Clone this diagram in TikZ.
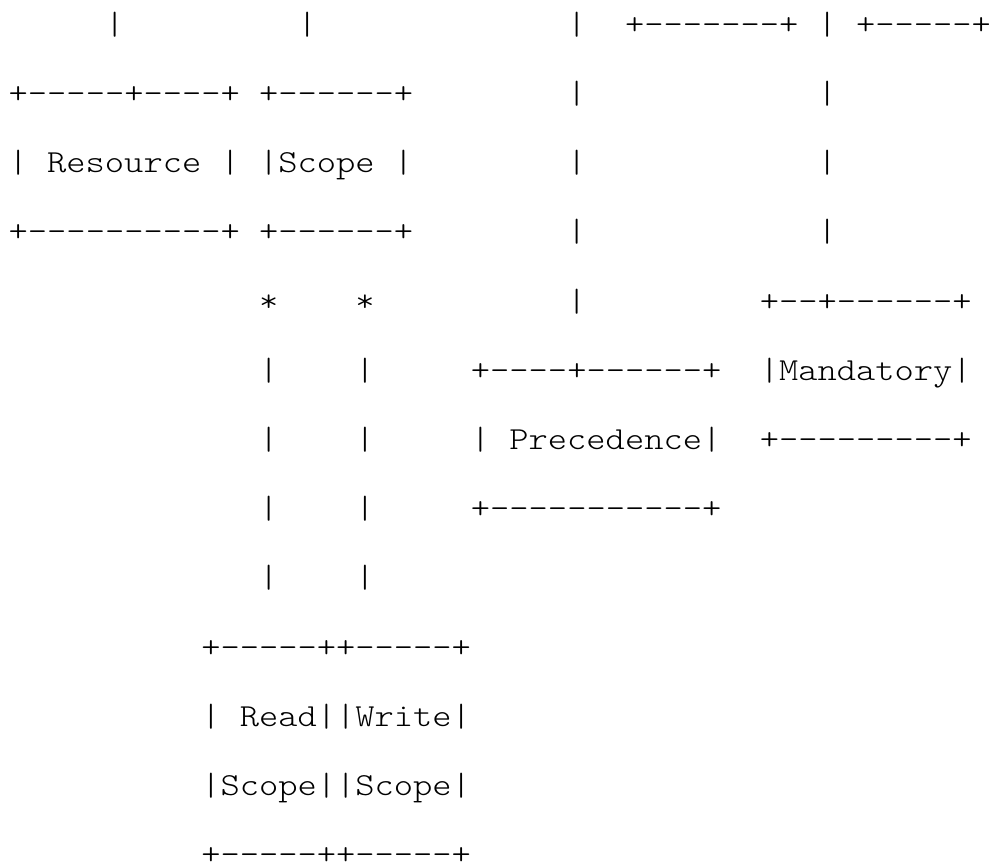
\documentclass[tikz,border=0pt]{standalone}
\usepackage{fontspec}
\newfontfamily\asciifont[FakeStretch=1.143]{Latin Modern Mono Light}
\tikzset{
  asc/.style={inner sep=0pt, outer sep=0pt, anchor=base west,
    font=\asciifont\fontsize{32.1pt}{38pt}\selectfont, text=black},
}
% column/row -> position
\newcommand\ascpos[2]{({8.7pt+#1*19.26pt},{868pt-34.3pt-(#2-1)*69.2pt})}
\newcommand\ascput[4]{\node[asc] (#1) at \ascpos{#2}{#3} {#4};}
\begin{document}
\begin{tikzpicture}
\useasboundingbox (0,0) rectangle (989pt,868pt);
% row 1
\ascput{a1}{5}{1}{|}
\ascput{a2}{15}{1}{|}
\ascput{a3}{29}{1}{|}
\ascput{a4}{32}{1}{+-------+}
\ascput{a5}{42}{1}{|}
\ascput{a6}{44}{1}{+-----+}
% row 2
\ascput{b1}{0}{2}{+-----+----+}
\ascput{b2}{13}{2}{+------+}
\ascput{b3}{29}{2}{|}
\ascput{b4}{42}{2}{|}
% row 3
\ascput{c1}{0}{3}{| Resource |}
\ascput{c2}{13}{3}{|Scope |}
\ascput{c3}{29}{3}{|}
\ascput{c4}{42}{3}{|}
% row 4
\ascput{d1}{0}{4}{+----------+}
\ascput{d2}{13}{4}{+------+}
\ascput{d3}{29}{4}{|}
\ascput{d4}{42}{4}{|}
% row 5
\ascput{e1}{13}{5}{*}
\ascput{e2}{18}{5}{*}
\ascput{e3}{29}{5}{|}
\ascput{e4}{39}{5}{+--+------+}
% row 6
\ascput{f1}{13}{6}{|}
\ascput{f2}{18}{6}{|}
\ascput{f3}{24}{6}{+----+------+}
\ascput{f4}{39}{6}{|Mandatory|}
% row 7
\ascput{g1}{13}{7}{|}
\ascput{g2}{18}{7}{|}
\ascput{g3}{24}{7}{| Precedence|}
\ascput{g4}{39}{7}{+---------+}
% row 8
\ascput{h1}{13}{8}{|}
\ascput{h2}{18}{8}{|}
\ascput{h3}{24}{8}{+-----------+}
% row 9
\ascput{i1}{13}{9}{|}
\ascput{i2}{18}{9}{|}
% rows 10-13
\ascput{j1}{10}{10}{+-----++-----+}
\ascput{k1}{10}{11}{| Read||Write|}
\ascput{l1}{10}{12}{|Scope||Scope|}
\ascput{m1}{10}{13}{+-----++-----+}
\end{tikzpicture}
\end{document}
